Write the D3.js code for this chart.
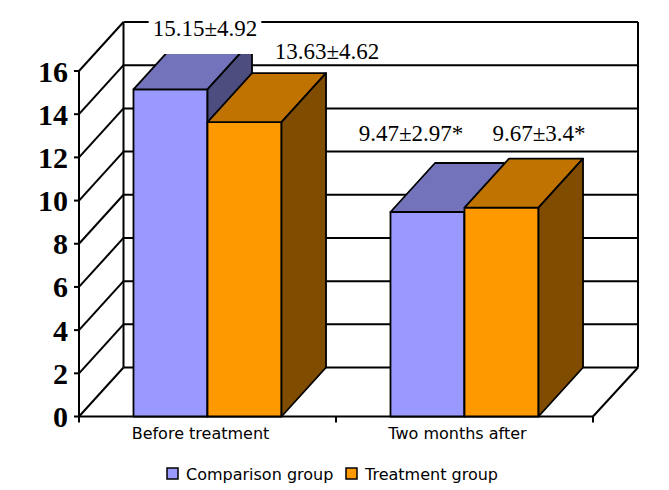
<!DOCTYPE html>
<html>
<head>
<meta charset="utf-8">
<script src="https://cdn.jsdelivr.net/npm/d3@7"></script>
<style>
    body { margin: 0; background: #fff; }
</style>
</head>
<body>
<svg id="grafico" width="669" height="490"></svg>
<script>

// datos
var categorias = ["Before treatment", "Two months after"];
var series = ["Comparison group", "Treatment group"];
var valoresComparacion = [15.15, 9.47];
var valoresTratamiento = [13.63, 9.67];
var etiquetasComparacion = ["15.15\u00b14.92", "9.47\u00b12.97*"];
var etiquetasTratamiento = ["13.63\u00b14.62", "9.67\u00b13.4*"];
var ticksY = [0, 2, 4, 6, 8, 10, 12, 14, 16];

// colores: frente, arriba, lado
var colores = {
    "Comparison group": ["#9999ff", "#7373bb", "#4d4d80"],
    "Treatment group": ["#ff9900", "#c07300", "#7f4c00"]
};

// desplazamiento de cada etiqueta respecto al centro trasero de la barra
var ajusteEtiquetas = [[-10, -4], [38, -14], [-61, -22], [-7, -18]];
var fondoEtiquetas = [true, false, false, false];

var prof = { dx: 44.5, dy: -49 };

InicializaGrafico();


function InicializaGrafico() {
    var svg = d3.select("#grafico");

    var y = d3.scaleLinear().domain([0, 16]).range([416.5, 71]);
    var x0 = d3.scaleBand().domain(categorias).range([79, 593]).padding(0);
    var x1 = d3.scaleBand().domain(series).range([0, x0.bandwidth()])
        .paddingInner(0).paddingOuter(0.736);

    dibujaParedes(svg, x0, y);

    var barras = [];
    categorias.forEach(function (c, i) {
        barras.push({ cat: c, serie: series[0], valor: valoresComparacion[i], texto: etiquetasComparacion[i] });
        barras.push({ cat: c, serie: series[1], valor: valoresTratamiento[i], texto: etiquetasTratamiento[i] });
    });

    var gBarras = svg.append("g");
    barras.forEach(function (b) {
        var xa = x0(b.cat) + x1(b.serie);
        var xb = xa + x1.bandwidth();
        var yt = y(b.valor);
        var yb = y(0);
        var col = colores[b.serie];
        var g = gBarras.append("g")
            .attr("stroke", "#000")
            .attr("stroke-width", 1.8)
            .attr("stroke-linejoin", "round");
        g.append("rect")
            .attr("x", xa).attr("y", yt)
            .attr("width", xb - xa).attr("height", yb - yt)
            .attr("fill", col[0]);
        g.append("polygon")
            .attr("points", [[xa, yt], [xb, yt], [xb + prof.dx, yt + prof.dy], [xa + prof.dx, yt + prof.dy]].join(" "))
            .attr("fill", col[1]);
        g.append("polygon")
            .attr("points", [[xb, yt], [xb + prof.dx, yt + prof.dy], [xb + prof.dx, yb + prof.dy], [xb, yb]].join(" "))
            .attr("fill", col[2]);
    });

    // etiquetas de valores
    barras.forEach(function (b, i) {
        var cx = x0(b.cat) + x1(b.serie) + x1.bandwidth() / 2 + prof.dx + ajusteEtiquetas[i][0];
        var cy = y(b.valor) + prof.dy + ajusteEtiquetas[i][1];
        var t = svg.append("text")
            .attr("x", cx).attr("y", cy)
            .attr("text-anchor", "middle")
            .attr("font-family", "'Liberation Serif', 'Times New Roman', serif")
            .attr("font-size", 23)
            .attr("fill", "#000")
            .text(b.texto);
        if (fondoEtiquetas[i]) {
            var bb = t.node().getBBox();
            svg.insert("rect", function () { return t.node(); })
                .attr("x", bb.x - 4).attr("y", bb.y)
                .attr("width", bb.width + 8).attr("height", 54 - bb.y)
                .attr("fill", "#fff");
        }
    });

    // eje y
    var ejeY = svg.append("g");
    ticksY.forEach(function (v) {
        ejeY.append("line")
            .attr("x1", 74).attr("x2", 79)
            .attr("y1", y(v)).attr("y2", y(v))
            .attr("stroke", "#000").attr("stroke-width", 2);
        ejeY.append("text")
            .attr("x", 68).attr("y", y(v))
            .attr("dy", "0.35em")
            .attr("text-anchor", "end")
            .attr("font-family", "'Liberation Serif', 'Times New Roman', serif")
            .attr("font-weight", "bold")
            .attr("font-size", 30)
            .text(v);
    });

    // eje x
    var ejeX = svg.append("g");
    var bordes = categorias.map(function (c) { return x0(c); }).concat([x0.range()[1]]);
    bordes.forEach(function (xx) {
        ejeX.append("line")
            .attr("x1", xx).attr("x2", xx)
            .attr("y1", y(0)).attr("y2", y(0) + 6)
            .attr("stroke", "#000").attr("stroke-width", 2);
    });
    categorias.forEach(function (c) {
        ejeX.append("text")
            .attr("x", x0(c) + x0.bandwidth() / 2 - 7)
            .attr("y", 439)
            .attr("text-anchor", "middle")
            .attr("font-family", "'DejaVu Sans', Verdana, sans-serif")
            .attr("font-size", 16)
            .text(c);
    });

    // leyenda
    var leyenda = svg.append("g");
    var posLeyenda = [167, 346];
    series.forEach(function (s, i) {
        leyenda.append("rect")
            .attr("x", posLeyenda[i]).attr("y", 468)
            .attr("width", 11).attr("height", 11)
            .attr("fill", colores[s][0])
            .attr("stroke", "#000").attr("stroke-width", 1.5);
        leyenda.append("text")
            .attr("x", posLeyenda[i] + 19).attr("y", 480)
            .attr("font-family", "'DejaVu Sans', Verdana, sans-serif")
            .attr("font-size", 16)
            .text(s);
    });
}


function dibujaParedes(svg, x0, y) {
    var g = svg.append("g")
        .attr("stroke", "#000")
        .attr("stroke-width", 2)
        .attr("fill", "none");
    var xi = x0.range()[0], xf = x0.range()[1];
    var xiB = xi + prof.dx, xfB = xf + prof.dx + 0.5;

    // lineas de la pared de fondo y la pared izquierda
    ticksY.forEach(function (v) {
        g.append("line")
            .attr("x1", xiB).attr("x2", xfB)
            .attr("y1", y(v) + prof.dy).attr("y2", y(v) + prof.dy);
        g.append("line")
            .attr("x1", xi).attr("x2", xiB)
            .attr("y1", y(v)).attr("y2", y(v) + prof.dy);
    });
    g.append("line")
        .attr("x1", xiB).attr("x2", xiB)
        .attr("y1", y(16) + prof.dy).attr("y2", y(0) + prof.dy);
    g.append("line")
        .attr("x1", xfB).attr("x2", xfB)
        .attr("y1", y(16) + prof.dy).attr("y2", y(0) + prof.dy);
    // eje frontal y piso
    g.append("line")
        .attr("x1", xi).attr("x2", xi)
        .attr("y1", y(16)).attr("y2", y(0));
    g.append("line")
        .attr("x1", xi).attr("x2", xf)
        .attr("y1", y(0)).attr("y2", y(0));
    g.append("line")
        .attr("x1", xf).attr("x2", xfB)
        .attr("y1", y(0)).attr("y2", y(0) + prof.dy);
}
</script>
</body>
</html>
